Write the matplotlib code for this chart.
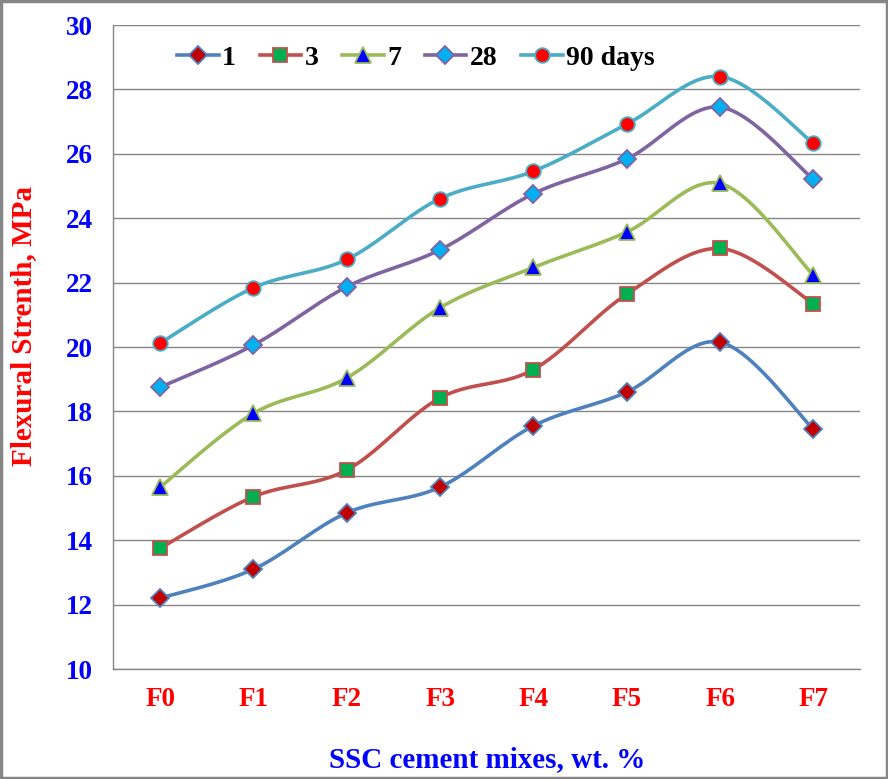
import numpy as np
import matplotlib
matplotlib.use("Agg")
import matplotlib.pyplot as plt
from matplotlib.lines import Line2D
from matplotlib.patches import Rectangle

plt.rcParams['font.family'] = ['Liberation Serif', 'DejaVu Serif']
plt.rcParams['font.weight'] = 'bold'

mixes = ['F0', 'F1', 'F2', 'F3', 'F4', 'F5', 'F6', 'F7']
day1 = [12.2, 13.1, 14.85, 15.65, 17.55, 18.6, 20.15, 17.45]
day3 = [13.75, 15.35, 16.18, 18.42, 19.3, 21.64, 23.06, 21.35]
day7 = [15.65, 17.94, 19.04, 21.22, 22.47, 23.57, 25.08, 22.23]
day28 = [18.75, 20.06, 21.87, 23.02, 24.76, 25.84, 27.45, 25.21]
day90 = [20.12, 21.84, 22.72, 24.61, 25.46, 26.92, 28.4, 26.33]
labels = ['1', '3', '7', '28', '90 days']

series = [day1, day3, day7, day28, day90]
line_colors = ['#4F81BD', '#C0504D', '#9BBB59', '#8064A2', '#4BACC6']
markers = ['D', 's', '^', 'D', 'o']
face_colors = ['#C00000', '#00B050', '#0000FF', '#00B0F0', '#FF0000']
msizes = [9.5, 10.5, 11, 9.5, 10.5]


def smooth(x, y, n=30):
    # Excel-style smoothed line: Catmull-Rom segments as cubic Bezier
    x = np.asarray(x, float)
    y = np.asarray(y, float)
    px = np.concatenate([[x[0]], x, [x[-1]]])
    py = np.concatenate([[y[0]], y, [y[-1]]])
    xs, ys = [], []
    t = np.linspace(0, 1, n)
    for i in range(1, len(px) - 2):
        p0 = np.array([px[i], py[i]])
        p3 = np.array([px[i + 1], py[i + 1]])
        c1 = p0 + (np.array([px[i + 1], py[i + 1]]) - np.array([px[i - 1], py[i - 1]])) / 6
        c2 = p3 - (np.array([px[i + 2], py[i + 2]]) - np.array([px[i], py[i]])) / 6
        b = ((1 - t) ** 3)[:, None] * p0 + (3 * (1 - t) ** 2 * t)[:, None] * c1 \
            + (3 * (1 - t) * t ** 2)[:, None] * c2 + (t ** 3)[:, None] * p3
        xs.extend(b[:, 0])
        ys.extend(b[:, 1])
    return xs, ys


fig = plt.figure(figsize=(8.88, 7.79), dpi=100)
ax = fig.add_axes([0.1278, 0.1412, 0.8407, 0.8267])

xpos = np.arange(len(mixes))
handles = []
for vals, lc, mk, fc, ms, lab in zip(series, line_colors, markers, face_colors, msizes, labels):
    sx, sy = smooth(xpos, vals)
    ax.plot(sx, sy, color=lc, lw=2.6, solid_capstyle='round', zorder=3)
    ax.plot(xpos, vals, ls='none', marker=mk, markersize=ms, markerfacecolor=fc,
            markeredgecolor=lc, markeredgewidth=1.3, zorder=4)
    handles.append(Line2D([], [], color=lc, lw=2.6, marker=mk, markersize=ms,
                          markerfacecolor=fc, markeredgecolor=lc, markeredgewidth=1.3))

ax.set_xlim(-0.5, 7.5)
ax.set_ylim(10, 30)
ax.set_yticks(np.arange(10, 31, 2))
ax.set_xticks(xpos)
ax.set_xticklabels(mixes)
ax.yaxis.grid(True, color='#868686', lw=1.0)
ax.set_axisbelow(True)
for s in ['top', 'right']:
    ax.spines[s].set_visible(False)
for s in ['left', 'bottom']:
    ax.spines[s].set_color('#868686')
    ax.spines[s].set_linewidth(1.0)
ax.tick_params(axis='y', length=0, pad=15, labelsize=19.5, labelcolor='#0000FF')
ax.tick_params(axis='x', length=0, pad=13, labelsize=19.5, labelcolor='#FF0000')

ax.set_ylabel('Flexural Strenth, MPa', fontsize=21, color='#FF0000', fontweight='bold')
ax.yaxis.set_label_coords(-0.103, 0.532)
ax.set_xlabel('SSC cement mixes, wt. %', fontsize=21, color='#0000FF', fontweight='bold')
ax.xaxis.set_label_coords(0.5, -0.12)

fig.legend(handles=handles, labels=labels, loc='center left',
           bbox_to_anchor=(0.187, 0.925), ncol=5, frameon=False,
           prop={'size': 20, 'weight': 'bold'}, handlelength=1.5,
           handletextpad=0.12, columnspacing=0.85, borderaxespad=0)

fig.patches.append(Rectangle((0.0015, 0.0018), 0.997, 0.9964, transform=fig.transFigure,
                             fill=False, edgecolor='#868686', lw=2.5))

fig.savefig('out.png', dpi=100)
